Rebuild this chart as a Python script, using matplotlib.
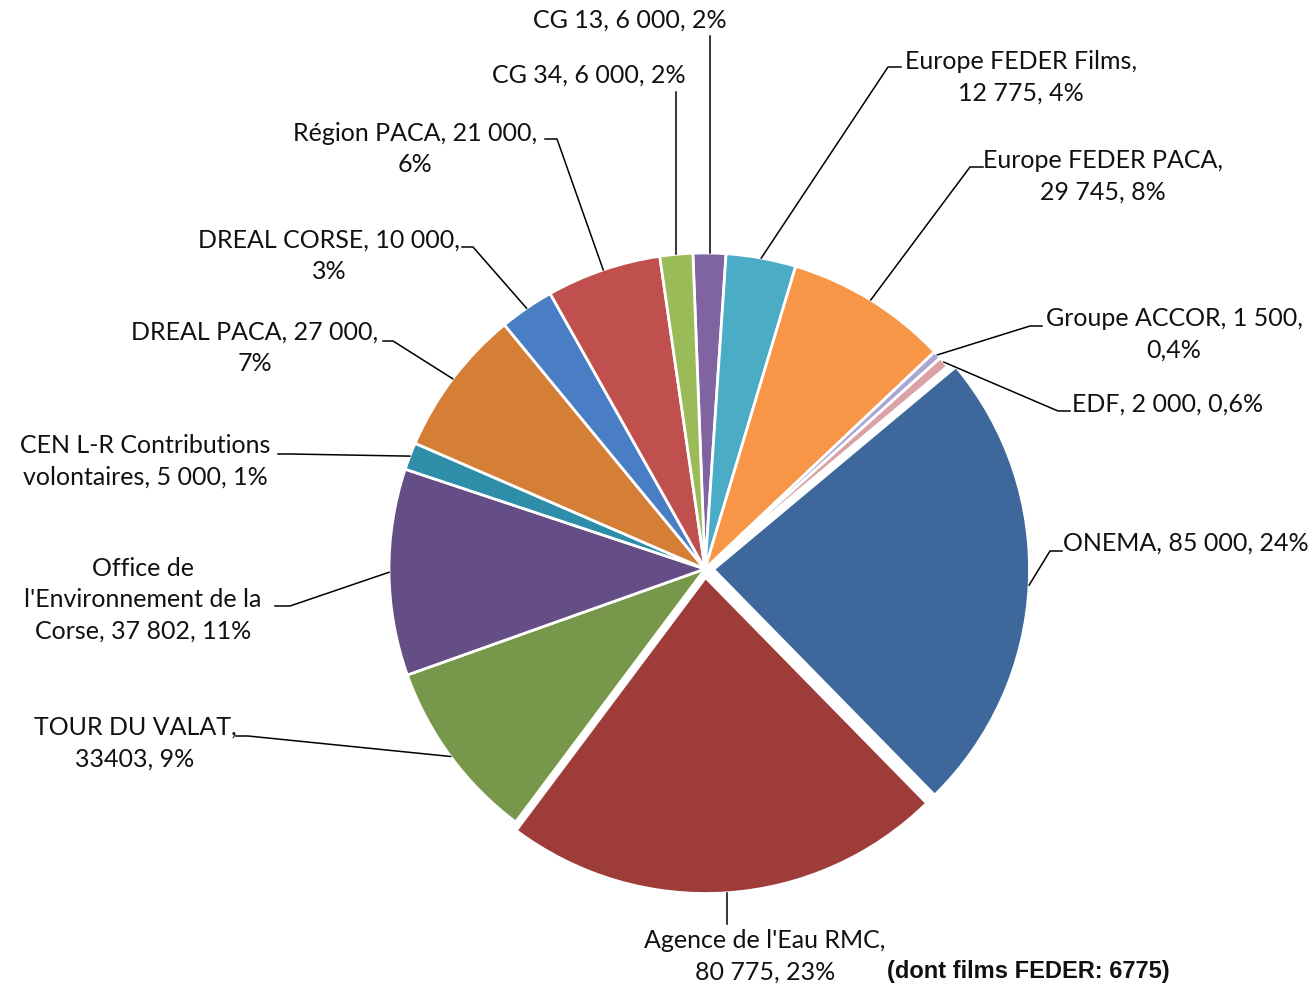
import numpy as np
import matplotlib.pyplot as plt

# Funding sources for the project (euros), clockwise from the top of the pie
sources = ["CG 13", "Europe FEDER Films", "Europe FEDER PACA", "Groupe ACCOR", "EDF",
           "ONEMA", "Agence de l'Eau RMC", "TOUR DU VALAT",
           "Office de l'Environnement de la Corse", "CEN L-R Contributions volontaires",
           "DREAL PACA", "DREAL CORSE", "Région PACA", "CG 34"]
amounts = [6000, 12775, 29745, 1500, 2000, 85000, 80775, 33403, 37802, 5000,
           27000, 10000, 21000, 6000]
label_texts = [
    "CG 13, 6 000, 2%",
    "Europe FEDER Films,\n12 775, 4%",
    "Europe FEDER PACA,\n29 745, 8%",
    "Groupe ACCOR, 1 500,\n0,4%",
    "EDF, 2 000, 0,6%",
    "ONEMA, 85 000, 24%",
    "Agence de l'Eau RMC,\n80 775, 23%",
    "TOUR DU VALAT,\n33403, 9%",
    "Office de\nl'Environnement de la\nCorse, 37 802, 11%",
    "CEN L-R Contributions\nvolontaires, 5 000, 1%",
    "DREAL PACA, 27 000,\n7%",
    "DREAL CORSE, 10 000,\n3%",
    "Région PACA, 21 000,\n6%",
    "CG 34, 6 000, 2%",
]
exploded_sources = ["ONEMA", "Agence de l'Eau RMC"]
note = "(dont films FEDER: 6775)"

colors = ["#8064A2", "#4BACC6", "#F79646", "#A9A7D2", "#DBA2A6", "#3E689C",
          "#9E3C3A", "#77984A", "#654D86", "#2E8DA8", "#D47E36", "#4A7EC4",
          "#C0504D", "#9BBB59"]

# layout, in pixels of the 1316x987 picture (y from the top)
W, H = 1316, 987
CX, CY, R = 705, 570, 316
# text centre x, centre y, horizontal alignment, leader hook
# hook: ("v", y) = vertical line from y to the slice
#       (x_text, x_elbow, y) = short horizontal stub then diagonal to the slice
layout = [
    (630, 20, "center", ("v", 37)),
    (1021, 77, "center", (901, 888, 68)),
    (1103, 176, "center", (983, 970, 168)),
    (1174, 334, "center", (1042, 1030, 327)),
    (1072, 404, "left", (1070, 1058, 412)),
    (1063, 543, "left", (1062, 1050, 552)),
    (765, 956, "center", ("v", 925)),
    (135, 743, "center", (236, 248, 737)),
    (143, 600, "center", (275, 290, 607)),
    (145, 461, "center", (278, 290, 455)),
    (255, 348, "center", (383, 393, 342)),
    (329, 256, "center", (462, 473, 248)),
    (415, 149, "center", (545, 557, 140)),
    (589, 75, "center", ("v", 93)),
]

FONT = ["Lato", "DejaVu Sans"]

fig = plt.figure(figsize=(W / 100, H / 100), dpi=100)
ax = fig.add_axes([0, 0, 1, 1])

# pie() takes explode in data units, so scale by the radius
explode = [0.027 * R if s in exploded_sources else 0 for s in sources]
wedges, _ = ax.pie(amounts, colors=colors, explode=explode, startangle=92.2,
                   counterclock=False, center=(CX, H - CY), radius=R,
                   wedgeprops=dict(edgecolor="white", linewidth=2))

for w, txt, (tx, ty, ha, hook) in zip(wedges, label_texts, layout):
    mid = np.deg2rad((w.theta1 + w.theta2) / 2)
    axx = w.center[0] + w.r * np.cos(mid)
    axy = w.center[1] + w.r * np.sin(mid)
    if hook[0] == "v":
        xs, ys = [axx, axx], [H - hook[1], axy]
    else:
        xs = [hook[0], hook[1], axx]
        ys = [H - hook[2], H - hook[2], axy]
    ax.plot(xs, ys, color="black", lw=1.1)
    ax.text(tx, H - ty, txt, ha=ha, va="center", multialignment="center",
            fontsize=18, family=FONT, color="#111111", linespacing=1.45)

ax.text(887, H - 972, note, ha="left", va="center", fontsize=17,
        fontweight="bold", family=["Liberation Sans Narrow", "Liberation Sans"],
        color="#111111")

ax.set_xlim(0, W)
ax.set_ylim(0, H)
ax.set_aspect("equal")
ax.axis("off")

fig.savefig("out.png", dpi=100)
